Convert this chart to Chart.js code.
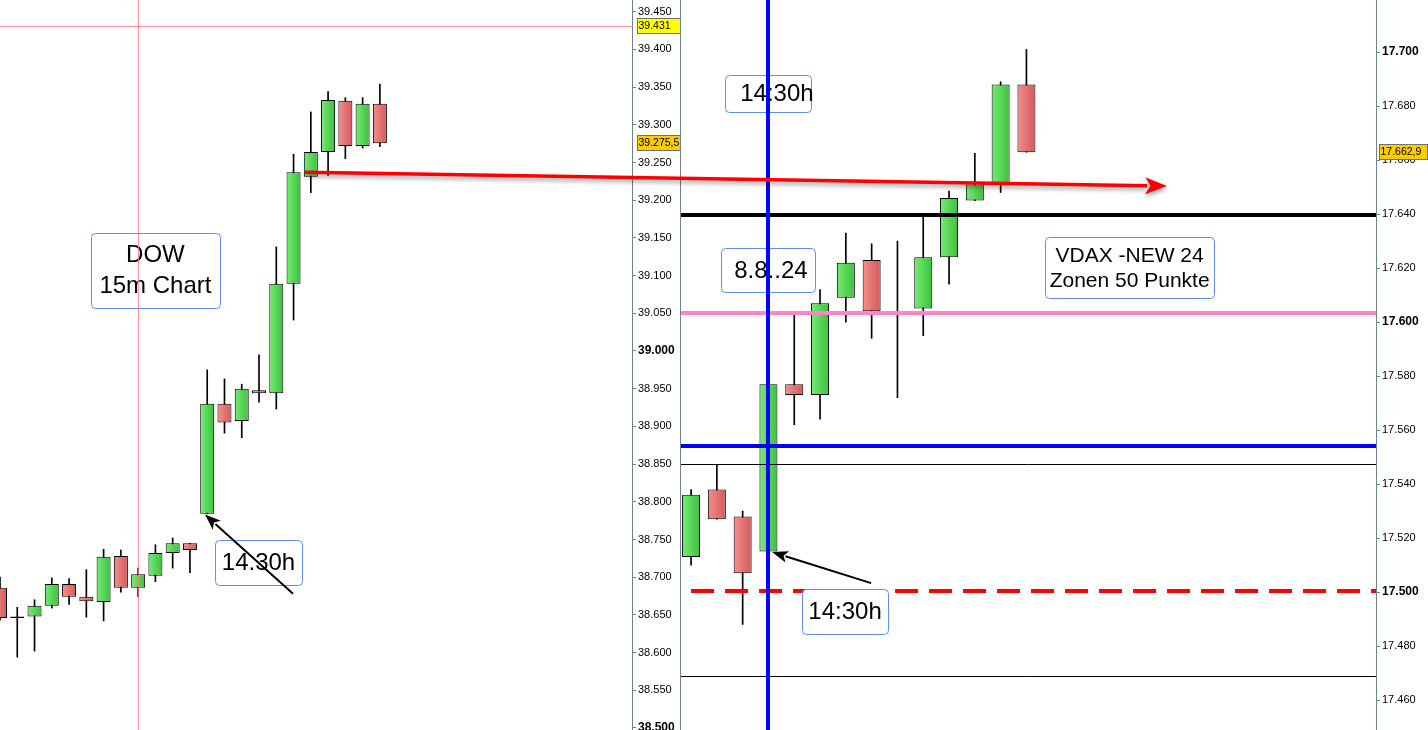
<!DOCTYPE html>
<html>
<head>
<meta charset="utf-8">
<script src="https://cdn.jsdelivr.net/npm/chart.js@4.4.1/dist/chart.umd.min.js"></script>
<style>
  html, body { margin: 0; padding: 0; background: #fff; }
  #wrap { position: relative; width: 1428px; height: 730px; overflow: hidden; }
  #left { position: absolute; left: 0; top: 0; width: 681px; height: 730px; }
  #right { position: absolute; left: 680px; top: 0; width: 747px; height: 730px; border-left: 1px solid #6f8090; }
  #overlay { position: absolute; left: 0; top: 0; pointer-events: none; }
</style>
</head>
<body>
<div id="wrap">
  <div id="left"><canvas id="dow" width="681" height="730"></canvas></div>
  <div id="right"><canvas id="dax" width="747" height="730"></canvas></div>
  <canvas id="overlay" width="1428" height="730"></canvas>
</div>
<script>
// DOW 15m candles
const dowOpen  = [38686, 38646, 38648, 38662, 38691, 38674, 38667, 38728, 38686, 38702, 38732, 38745, 38784, 38930, 38907, 38948, 38944, 39089, 39231, 39264, 39332, 39272, 39328];
const dowHigh  = [38700, 38660, 38670, 38699, 38698, 38710, 38737, 38736, 38712, 38743, 38752, 38745, 38975, 38963, 38956, 38995, 39138, 39261, 39317, 39344, 39336, 39336, 39354];
const dowLow   = [38643, 38594, 38602, 38659, 38664, 38647, 38642, 38680, 38674, 38694, 38712, 38706, 38784, 38891, 38885, 38932, 38923, 39041, 39210, 39233, 39255, 39269, 39271];
const dowClose = [38646, 38648, 38662, 38691, 38674, 38668, 38727, 38686, 38704, 38732, 38745, 38736, 38930, 38905, 38950, 38944, 39089, 39237, 39264, 39333, 39272, 39328, 39275.5];
const dowTicks = [38500, 38550, 38600, 38650, 38700, 38750, 38800, 38850, 38900, 38950, 39000, 39050, 39100, 39150, 39200, 39250, 39300, 39350, 39400, 39450];

// DAX candles
const daxOpen  = [17513, 17538, 17528, 17515, 17577, 17573, 17609, 17623, 17603.5, 17605, 17624, 17645, 17651, 17688];
const daxHigh  = [17538, 17547, 17530, 17577, 17603, 17612, 17633, 17629, 17630, 17640, 17648.5, 17662.5, 17689, 17701];
const daxLow   = [17510, 17527, 17488, 17515, 17562, 17564, 17600, 17594, 17572, 17595, 17614, 17645, 17648, 17662.9];
const daxClose = [17536, 17527, 17507, 17577, 17573, 17607, 17622, 17604, 17603, 17624, 17646, 17651, 17688, 17662.9];
const daxTicks = [17460, 17480, 17500, 17520, 17540, 17560, 17580, 17600, 17620, 17640, 17660, 17680, 17700];

// levels
const dowMarkIndex = 8;
const dowMarkLevel = 39431;
const dowLast = 39275.5;
const daxMarkIndex = 3;
const daxLevels = { black: 17639.5, pink: 17603.3, blue: 17554, thinTop: 17547.5, dashed: 17500.5, thinLow: 17469 };
const daxLast = 17662.9;

const FONT = 'Arial, "Liberation Sans", sans-serif';

function fmt(v) {
  const s = String(Math.round(v));
  return s.slice(0, s.length - 3) + '.' + s.slice(-3);
}

function bodyFill(c, opens, closes, w) {
  const up = closes[c.dataIndex] >= opens[c.dataIndex];
  const flat = up ? '#55d655' : '#e57070';
  if (c.type !== 'data' || !c.chart.scales.x) return flat;
  const x = c.chart.scales.x.getPixelForValue(c.dataIndex);
  if (!isFinite(x)) return flat;
  const g = c.chart.ctx.createLinearGradient(x - w / 2, 0, x + w / 2, 0);
  if (up) { g.addColorStop(0, '#74ec74'); g.addColorStop(1, '#3dbf3d'); }
  else { g.addColorStop(0, '#f58d8d'); g.addColorStop(1, '#d45a5a'); }
  return g;
}

function candleSets(opens, highs, lows, closes, w) {
  return [
    {
      data: lows.map((l, i) => ({ x: i, y: [l, highs[i]] })),
      backgroundColor: '#000', borderWidth: 0, barThickness: 1, grouped: false, order: 2
    },
    {
      data: opens.map((o, i) => ({ x: i, y: [o, closes[i]] })),
      backgroundColor: c => bodyFill(c, opens, closes, w),
      borderColor: '#000', borderWidth: 1, borderSkipped: false, inflateAmount: 0,
      barThickness: w, grouped: false, order: 1
    }
  ];
}

function yAxis(min, max, ticks, width, isBold) {
  return {
    position: 'right', min: min, max: max,
    afterBuildTicks: s => { s.ticks = ticks.map(v => ({ value: v })); },
    afterFit: s => { s.width = width; s.paddingTop = 0; s.paddingBottom = 0; },
    grid: { drawOnChartArea: false, drawTicks: true, tickLength: 4, color: '#6f8090' },
    border: { display: true, color: '#6f8090' },
    ticks: {
      padding: 2, color: '#000', autoSkip: false,
      callback: v => fmt(v),
      font: c => isBold(c.tick && c.tick.value) ? { family: FONT, size: 12, weight: 'bold' } : { family: FONT, size: 11 }
    }
  };
}

function textBox(ctx, cx, cy, w, h, lines, size, gap, dx) {
  const x = Math.round(cx - w / 2) + 0.5, y = Math.round(cy - h / 2) + 0.5;
  ctx.save();
  ctx.beginPath();
  ctx.roundRect(x, y, w, h, 4);
  ctx.fillStyle = '#fff';
  ctx.fill();
  ctx.strokeStyle = '#5e8ef0';
  ctx.lineWidth = 1;
  ctx.stroke();
  ctx.fillStyle = '#000';
  ctx.font = size + 'px ' + FONT;
  ctx.textAlign = 'center';
  ctx.textBaseline = 'middle';
  const top = cy - (lines.length - 1) * gap / 2;
  lines.forEach((t, k) => ctx.fillText(t, cx + (dx || 0), top + k * gap + 1));
  ctx.restore();
}

function arrow(ctx, x1, y1, x2, y2, width, headLen, headW, color, shadow) {
  const a = Math.atan2(y2 - y1, x2 - x1);
  const bx = x2 - headLen * Math.cos(a), by = y2 - headLen * Math.sin(a);
  ctx.save();
  if (shadow) {
    ctx.shadowColor = 'rgba(0,0,0,0.35)';
    ctx.shadowBlur = 4;
    ctx.shadowOffsetY = 3;
  }
  ctx.strokeStyle = color;
  ctx.fillStyle = color;
  ctx.lineWidth = width;
  ctx.beginPath();
  ctx.moveTo(x1, y1);
  ctx.lineTo(bx + 2 * Math.cos(a), by + 2 * Math.sin(a));
  ctx.stroke();
  ctx.beginPath();
  ctx.moveTo(x2, y2);
  ctx.lineTo(bx + headW * Math.sin(a), by - headW * Math.cos(a));
  ctx.lineTo(bx + headLen * 0.25 * Math.cos(a), by + headLen * 0.25 * Math.sin(a));
  ctx.lineTo(bx - headW * Math.sin(a), by + headW * Math.cos(a));
  ctx.closePath();
  ctx.fill();
  ctx.restore();
}

function axisTag(chart, v, bg, offset) {
  const ctx = chart.ctx, s = chart.scales.y;
  const y = Math.round(s.getPixelForValue(v));
  const x0 = chart.chartArea.right + offset;
  const w = chart.width - x0 - 1;
  ctx.save();
  ctx.fillStyle = bg;
  ctx.fillRect(x0 + 0.5, y - 7.5, w, 15);
  ctx.strokeStyle = '#707070';
  ctx.lineWidth = 1;
  ctx.strokeRect(x0 + 0.5, y - 7.5, w, 15);
  ctx.fillStyle = '#000';
  ctx.font = '10.5px ' + FONT;
  ctx.textBaseline = 'middle';
  ctx.fillText(String(v).replace('.', ',').replace(/^(\d\d)(\d{3})/, '$1.$2'), x0 + 1.5, y + 0.5);
  ctx.restore();
}

const dowNotes = {
  id: 'dowNotes',
  afterDatasetsDraw(chart) {
    const ctx = chart.ctx, xs = chart.scales.x, ys = chart.scales.y, area = chart.chartArea;
    textBox(ctx, xs.getPixelForValue(9.0), ys.getPixelForValue(39107), 129, 75, ['DOW', '15m Chart'], 24, 31);
    textBox(ctx, xs.getPixelForValue(14.97), ys.getPixelForValue(38719), 87, 45, ['14.30h'], 24, 0);
    ctx.save();
    ctx.strokeStyle = 'rgba(255,120,120,0.8)';
    ctx.lineWidth = 1;
    const vx = Math.round(xs.getPixelForValue(dowMarkIndex)) + 0.5;
    ctx.beginPath(); ctx.moveTo(vx, area.top); ctx.lineTo(vx, area.bottom); ctx.stroke();
    const hy = Math.round(ys.getPixelForValue(dowMarkLevel)) + 0.5;
    ctx.beginPath(); ctx.moveTo(area.left, hy); ctx.lineTo(area.right, hy); ctx.stroke();
    ctx.restore();
    arrow(ctx, xs.getPixelForValue(16.97), ys.getPixelForValue(38678), xs.getPixelForValue(11.87), ys.getPixelForValue(38783), 2, 16, 6, '#000');
  },
  afterDraw(chart) {
    axisTag(chart, dowMarkLevel, '#ffff00', 5);
    axisTag(chart, dowLast, '#ffcc00', 5);
  }
};

const daxNotes = {
  id: 'daxNotes',
  afterDatasetsDraw(chart) {
    const ctx = chart.ctx, xs = chart.scales.x, ys = chart.scales.y, area = chart.chartArea;
    const h = (v, color, w, dash, from) => {
      const y = Math.round(ys.getPixelForValue(v)) + (w % 2 ? 0.5 : 0);
      ctx.save();
      ctx.strokeStyle = color;
      ctx.lineWidth = w;
      if (dash) ctx.setLineDash(dash);
      ctx.beginPath();
      ctx.moveTo(from !== undefined ? xs.getPixelForValue(from) : area.left, y);
      ctx.lineTo(area.right, y);
      ctx.stroke();
      ctx.restore();
    };
    h(daxLevels.thinTop, '#000', 1);
    h(daxLevels.thinLow, '#000', 1);
    h(daxLevels.black, '#000', 4);
    h(daxLevels.pink, '#ff85c6', 4);
    h(daxLevels.blue, '#0000ff', 4);
    h(daxLevels.dashed, '#ff0000', 4, [23, 11], 0);
    textBox(ctx, xs.getPixelForValue(2.98), ys.getPixelForValue(17684.6), 86, 37, ['14:30h'], 24, 0, 9);
    textBox(ctx, xs.getPixelForValue(2.98), ys.getPixelForValue(17619.3), 94, 44, ['8.8..24'], 24, 0, 3);
    textBox(ctx, xs.getPixelForValue(17.0), ys.getPixelForValue(17620.2), 169, 61, ['VDAX -NEW 24', 'Zonen 50 Punkte'], 21, 25);
    textBox(ctx, xs.getPixelForValue(5.97), ys.getPixelForValue(17492.8), 86, 45, ['14:30h'], 24, 0);
    ctx.save();
    ctx.strokeStyle = '#0000ff';
    ctx.lineWidth = 4;
    const vx = Math.round(xs.getPixelForValue(daxMarkIndex));
    ctx.beginPath(); ctx.moveTo(vx, area.top); ctx.lineTo(vx, area.bottom); ctx.stroke();
    ctx.restore();
    arrow(ctx, xs.getPixelForValue(6.98), ys.getPixelForValue(17503.3), xs.getPixelForValue(3.14), ys.getPixelForValue(17514.8), 2, 16, 6, '#000');
  },
  afterDraw(chart) {
    axisTag(chart, daxLast, '#ffcc00', 3);
  }
};

const common = {
  responsive: false,
  animation: false,
  layout: { padding: 0 },
  plugins: { legend: { display: false }, tooltip: { enabled: false } }
};

const dowChart = new Chart(document.getElementById('dow'), {
  type: 'bar',
  data: { datasets: candleSets(dowOpen, dowHigh, dowLow, dowClose, 14) },
  options: Object.assign({}, common, {
    scales: {
      x: { type: 'linear', min: 0, max: 36.6, offset: false, display: false },
      y: yAxis(38497.3, 39465.5, dowTicks, 49, v => v % 500 === 0)
    }
  }),
  plugins: [dowNotes]
});

const daxChart = new Chart(document.getElementById('dax'), {
  type: 'bar',
  data: { datasets: candleSets(daxOpen, daxHigh, daxLow, daxClose, 18) },
  options: Object.assign({}, common, {
    scales: {
      x: { type: 'linear', min: -0.39, max: 26.55, offset: false, display: false },
      y: yAxis(17448.9, 17719.3, daxTicks, 52, v => v % 100 === 0)
    }
  }),
  plugins: [daxNotes]
});

// red arrow spanning both charts
(function () {
  const ctx = document.getElementById('overlay').getContext('2d');
  const wrap = document.getElementById('wrap').getBoundingClientRect();
  const lr = dowChart.canvas.getBoundingClientRect();
  const rr = daxChart.canvas.getBoundingClientRect();
  const x1 = lr.left - wrap.left + dowChart.scales.x.getPixelForValue(17.66);
  const y1 = lr.top - wrap.top + dowChart.scales.y.getPixelForValue(39237);
  const x2 = rr.left - wrap.left + daxChart.scales.x.getPixelForValue(18.45);
  const y2 = rr.top - wrap.top + daxChart.scales.y.getPixelForValue(17650.4);
  arrow(ctx, x1, y1, x2, y2, 3.5, 22, 8.5, '#ff0000', true);
})();
</script>
</body>
</html>
